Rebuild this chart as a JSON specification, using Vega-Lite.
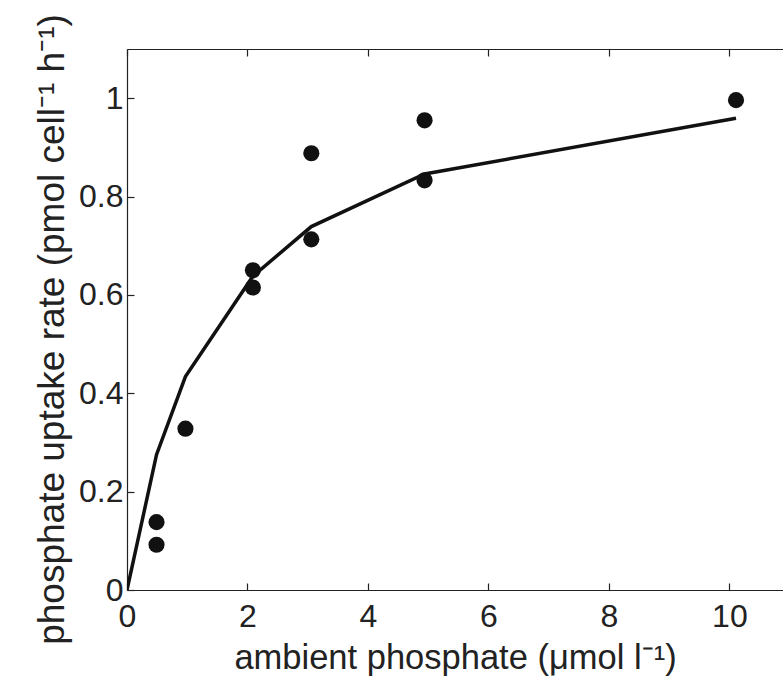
{
  "$schema": "https://vega.github.io/schema/vega-lite/v6.json",
  "autosize": {"type": "none"},
  "padding": {"left": 127, "top": 49, "right": 0, "bottom": 90},
  "width": 656,
  "height": 541,
  "background": "white",
  "config": {
    "view": {"stroke": null},
    "font": "Liberation Sans",
    "axis": {
      "domainColor": "#222",
      "domainWidth": 1.2,
      "tickColor": "#222",
      "tickWidth": 1.2,
      "grid": false,
      "labelFont": "Liberation Sans",
      "labelColor": "#222",
      "titleFont": "Liberation Sans",
      "titleFontWeight": "normal",
      "titleColor": "#222"
    }
  },
  "datasets": {
    "obs": [
      {"S": 0.49, "V": 0.138},
      {"S": 0.49, "V": 0.092},
      {"S": 0.97, "V": 0.328},
      {"S": 2.09, "V": 0.65},
      {"S": 2.09, "V": 0.615},
      {"S": 3.06, "V": 0.888},
      {"S": 3.06, "V": 0.713},
      {"S": 4.94, "V": 0.955},
      {"S": 4.94, "V": 0.833},
      {"S": 10.11, "V": 0.996}
    ],
    "fit": [
      {"S": 0, "V": 0},
      {"S": 0.49, "V": 0.275},
      {"S": 0.97, "V": 0.434},
      {"S": 2.09, "V": 0.638},
      {"S": 3.06, "V": 0.739},
      {"S": 4.94, "V": 0.846},
      {"S": 10.11, "V": 0.959}
    ]
  },
  "resolve": {"axis": {"x": "independent", "y": "independent"}},
  "layer": [
    {
      "data": {"name": "fit"},
      "mark": {"type": "line", "color": "#111", "strokeWidth": 3.5, "clip": true},
      "encoding": {
        "x": {
          "field": "S", "type": "quantitative",
          "scale": {"domain": [0, 10.89], "nice": false, "zero": false},
          "axis": {
            "orient": "bottom",
            "values": [0, 2, 4, 6, 8, 10],
            "format": "d",
            "tickSize": -7,
            "labelFontSize": 32,
            "labelPadding": 18,
            "labelFlush": false,
            "labelOverlap": false,
            "title": "ambient phosphate (μmol l⁻¹)",
            "titleFontSize": 34.5,
            "titlePadding": 9
          }
        },
        "y": {
          "field": "V", "type": "quantitative",
          "scale": {"domain": [0, 1.1], "nice": false},
          "axis": {
            "orient": "left",
            "values": [0, 0.2, 0.4, 0.6, 0.8, 1],
            "format": "~g",
            "tickSize": -7,
            "labelFontSize": 32,
            "labelPadding": 11,
            "labelFlush": false,
            "labelOverlap": false,
            "labelBaseline": "middle",
            "title": "phosphate uptake rate (pmol cell⁻¹ h⁻¹)",
            "titleFontSize": 37,
            "titlePadding": 7,
            "titleY": 280
          }
        }
      }
    },
    {
      "data": {"name": "obs"},
      "mark": {"type": "circle", "color": "#111", "opacity": 1, "size": 260},
      "encoding": {
        "x": {
          "field": "S", "type": "quantitative",
          "scale": {"domain": [0, 10.89], "nice": false, "zero": false},
          "axis": {
            "orient": "top",
            "values": [0, 2, 4, 6, 8, 10],
            "tickSize": -7,
            "labels": false,
            "title": null
          }
        },
        "y": {
          "field": "V", "type": "quantitative",
          "scale": {"domain": [0, 1.1], "nice": false},
          "axis": null
        }
      }
    }
  ]
}
